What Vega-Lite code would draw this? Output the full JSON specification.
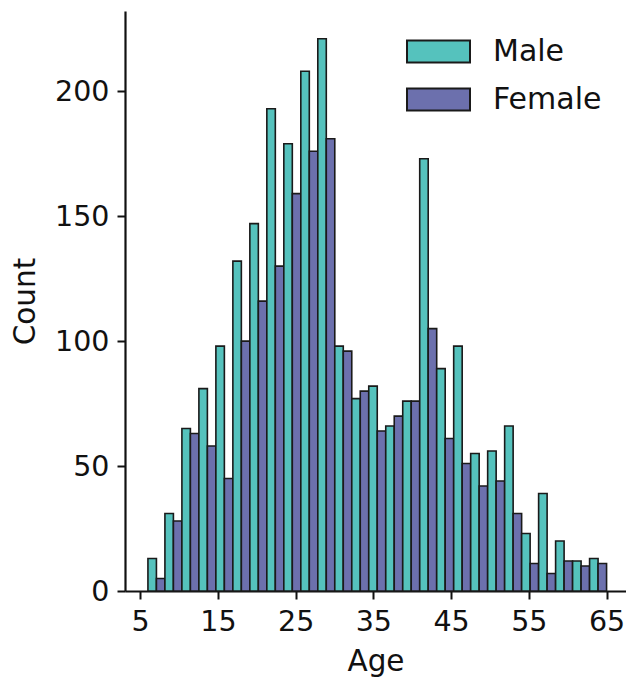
{
  "$schema": "https://vega.github.io/schema/vega-lite/v6.json",
  "autosize": {"type": "none"},
  "padding": {"left": 125, "top": 11, "right": 0, "bottom": 90},
  "width": 501,
  "height": 580,
  "background": "white",
  "config": {
    "view": {"stroke": null},
    "font": "DejaVu Sans",
    "axis": {
      "grid": false,
      "domainColor": "#111",
      "domainWidth": 2.2,
      "tickColor": "#111",
      "tickWidth": 2,
      "tickSize": 8,
      "labelFont": "DejaVu Sans",
      "labelFontSize": 28.5,
      "labelColor": "#111",
      "labelPadding": 8,
      "labelFlush": false,
      "labelOverlap": false,
      "titleFont": "DejaVu Sans",
      "titleFontSize": 29.5,
      "titleFontWeight": "normal",
      "titleColor": "#111"
    },
    "legend": {
      "labelFont": "DejaVu Sans",
      "labelFontSize": 30,
      "labelColor": "#111"
    }
  },
  "data": {
    "values": [
      {"age_start": 6.000, "age_end": 8.185, "sex": "Male", "count": 13},
      {"age_start": 6.000, "age_end": 8.185, "sex": "Female", "count": 5},
      {"age_start": 8.185, "age_end": 10.370, "sex": "Male", "count": 31},
      {"age_start": 8.185, "age_end": 10.370, "sex": "Female", "count": 28},
      {"age_start": 10.370, "age_end": 12.556, "sex": "Male", "count": 65},
      {"age_start": 10.370, "age_end": 12.556, "sex": "Female", "count": 63},
      {"age_start": 12.556, "age_end": 14.741, "sex": "Male", "count": 81},
      {"age_start": 12.556, "age_end": 14.741, "sex": "Female", "count": 58},
      {"age_start": 14.741, "age_end": 16.926, "sex": "Male", "count": 98},
      {"age_start": 14.741, "age_end": 16.926, "sex": "Female", "count": 45},
      {"age_start": 16.926, "age_end": 19.111, "sex": "Male", "count": 132},
      {"age_start": 16.926, "age_end": 19.111, "sex": "Female", "count": 100},
      {"age_start": 19.111, "age_end": 21.296, "sex": "Male", "count": 147},
      {"age_start": 19.111, "age_end": 21.296, "sex": "Female", "count": 116},
      {"age_start": 21.296, "age_end": 23.481, "sex": "Male", "count": 193},
      {"age_start": 21.296, "age_end": 23.481, "sex": "Female", "count": 130},
      {"age_start": 23.481, "age_end": 25.667, "sex": "Male", "count": 179},
      {"age_start": 23.481, "age_end": 25.667, "sex": "Female", "count": 159},
      {"age_start": 25.667, "age_end": 27.852, "sex": "Male", "count": 208},
      {"age_start": 25.667, "age_end": 27.852, "sex": "Female", "count": 176},
      {"age_start": 27.852, "age_end": 30.037, "sex": "Male", "count": 221},
      {"age_start": 27.852, "age_end": 30.037, "sex": "Female", "count": 181},
      {"age_start": 30.037, "age_end": 32.222, "sex": "Male", "count": 98},
      {"age_start": 30.037, "age_end": 32.222, "sex": "Female", "count": 96},
      {"age_start": 32.222, "age_end": 34.407, "sex": "Male", "count": 77},
      {"age_start": 32.222, "age_end": 34.407, "sex": "Female", "count": 80},
      {"age_start": 34.407, "age_end": 36.593, "sex": "Male", "count": 82},
      {"age_start": 34.407, "age_end": 36.593, "sex": "Female", "count": 64},
      {"age_start": 36.593, "age_end": 38.778, "sex": "Male", "count": 66},
      {"age_start": 36.593, "age_end": 38.778, "sex": "Female", "count": 70},
      {"age_start": 38.778, "age_end": 40.963, "sex": "Male", "count": 76},
      {"age_start": 38.778, "age_end": 40.963, "sex": "Female", "count": 76},
      {"age_start": 40.963, "age_end": 43.148, "sex": "Male", "count": 173},
      {"age_start": 40.963, "age_end": 43.148, "sex": "Female", "count": 105},
      {"age_start": 43.148, "age_end": 45.333, "sex": "Male", "count": 89},
      {"age_start": 43.148, "age_end": 45.333, "sex": "Female", "count": 61},
      {"age_start": 45.333, "age_end": 47.519, "sex": "Male", "count": 98},
      {"age_start": 45.333, "age_end": 47.519, "sex": "Female", "count": 51},
      {"age_start": 47.519, "age_end": 49.704, "sex": "Male", "count": 55},
      {"age_start": 47.519, "age_end": 49.704, "sex": "Female", "count": 42},
      {"age_start": 49.704, "age_end": 51.889, "sex": "Male", "count": 56},
      {"age_start": 49.704, "age_end": 51.889, "sex": "Female", "count": 44},
      {"age_start": 51.889, "age_end": 54.074, "sex": "Male", "count": 66},
      {"age_start": 51.889, "age_end": 54.074, "sex": "Female", "count": 31},
      {"age_start": 54.074, "age_end": 56.259, "sex": "Male", "count": 23},
      {"age_start": 54.074, "age_end": 56.259, "sex": "Female", "count": 11},
      {"age_start": 56.259, "age_end": 58.444, "sex": "Male", "count": 39},
      {"age_start": 56.259, "age_end": 58.444, "sex": "Female", "count": 7},
      {"age_start": 58.444, "age_end": 60.630, "sex": "Male", "count": 20},
      {"age_start": 58.444, "age_end": 60.630, "sex": "Female", "count": 12},
      {"age_start": 60.630, "age_end": 62.815, "sex": "Male", "count": 12},
      {"age_start": 60.630, "age_end": 62.815, "sex": "Female", "count": 10},
      {"age_start": 62.815, "age_end": 65.000, "sex": "Male", "count": 13},
      {"age_start": 62.815, "age_end": 65.000, "sex": "Female", "count": 11}
    ]
  },
  "transform": [
    {"calculate": "(datum.age_start + datum.age_end) / 2", "as": "age_mid"},
    {"calculate": "datum.sex === 'Male' ? datum.age_start : datum.age_mid", "as": "x_lo"},
    {"calculate": "datum.sex === 'Male' ? datum.age_mid : datum.age_end", "as": "x_hi"}
  ],
  "mark": {"type": "rect", "stroke": "#1a1a1a", "strokeWidth": 1.6, "opacity": 1},
  "encoding": {
    "x": {
      "field": "x_lo",
      "type": "quantitative",
      "title": "Age",
      "scale": {"domain": [3.05, 67.5], "nice": false, "zero": false},
      "axis": {"values": [5, 15, 25, 35, 45, 55, 65], "titlePadding": 12}
    },
    "x2": {"field": "x_hi"},
    "y": {
      "field": "count",
      "type": "quantitative",
      "title": "Count",
      "scale": {"domain": [0, 232.1], "nice": false},
      "axis": {"values": [0, 50, 100, 150, 200], "titlePadding": 14}
    },
    "y2": {"datum": 0},
    "color": {
      "field": "sex",
      "type": "nominal",
      "scale": {"domain": ["Male", "Female"], "range": ["#55c2bd", "#6c70ad"]},
      "legend": {
        "title": null,
        "orient": "none",
        "legendX": 281,
        "legendY": 8,
        "symbolType": "M-1,-0.35H1V0.35H-1Z",
        "symbolSize": 3969,
        "symbolStrokeColor": "#1a1a1a",
        "symbolStrokeWidth": 2,
        "symbolOpacity": 1,
        "labelOffset": 22,
        "rowPadding": -3
      }
    }
  }
}
